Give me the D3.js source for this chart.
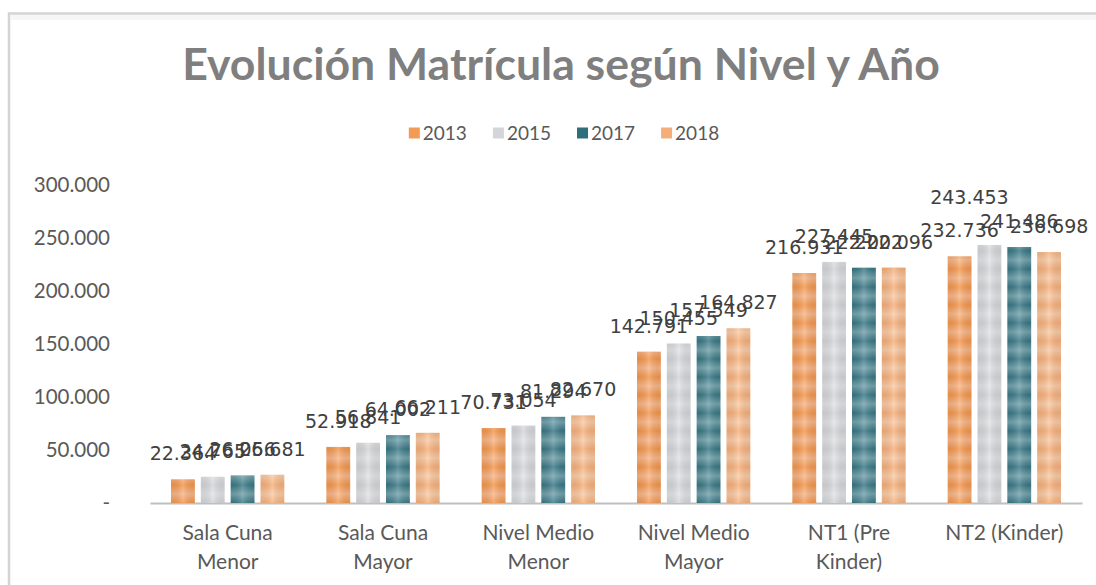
<!DOCTYPE html>
<html><head><meta charset="utf-8">
<script src="https://cdn.jsdelivr.net/npm/d3@7/dist/d3.min.js"></script>
<style>html,body{margin:0;padding:0;background:#fff;overflow:hidden}</style>
</head><body>
<svg id="chart" width="1096" height="585"></svg>
<script>
// ---- data ----
const categories = ["Sala Cuna Menor", "Sala Cuna Mayor", "Nivel Medio Menor", "Nivel Medio Mayor", "NT1 (Pre Kinder)", "NT2 (Kinder)"];
const years = ["2013", "2015", "2017", "2018"];
const values2013 = [22364, 52918, 70731, 142791, 216931, 232736];
const values2015 = [24765, 56841, 73054, 150455, 227445, 243453];
const values2017 = [26056, 64002, 81294, 157549, 222002, 241486];
const values2018 = [26681, 66211, 82670, 164827, 222096, 236698];
const yTicks = [0, 50000, 100000, 150000, 200000, 250000, 300000];
const titleText = "Evolución Matrícula según Nivel y Año";

// ---- styles ----
const palette = {
  "2013": {base: "#F3954A", light: "#F8B689", solid: "#F39A55"},
  "2015": {base: "#D2D4D7", light: "#E2E3E5", solid: "#D3D5D8"},
  "2017": {base: "#377683", light: "#73A3AD", solid: "#2F6E7C"},
  "2018": {base: "#F6AE78", light: "#FACBA6", solid: "#F6AE78"}
};
const labelShift = {"NT2 (Kinder)|2015": [-20, -22]};

const seriesValues = [values2013, values2015, values2017, values2018];
const svg = d3.select("#chart");
const loc = d3.formatLocale({decimal: ",", thousands: ".", grouping: [3], currency: ["$", ""]});
const fmt = loc.format(",.0f");

// background + border
svg.append("rect").attr("x", 0).attr("y", 0).attr("width", 1096).attr("height", 585).attr("fill", "#fff");
svg.append("rect").attr("x", 9).attr("y", 13.5).attr("width", 1200).attr("height", 700)
  .attr("fill", "none").attr("stroke", "#d4d4d4").attr("stroke-width", 2.5);
svg.append("rect").attr("x", 10.5).attr("y", 15).attr("width", 1200).attr("height", 5).attr("fill", "#f6f6f6");

// scales
const x0 = d3.scaleBand().domain(categories).range([150, 1082]).padding(0);
const x1 = d3.scaleBand().domain(years).range([21, x0.bandwidth() - 21]).paddingInner(0.2);
const y = d3.scaleLinear().domain([0, 300000]).range([503, 185]);

// defs
const defs = svg.append("defs");
years.forEach(yr => {
  const c = palette[yr];
  const g = defs.append("linearGradient").attr("id", "vg" + yr)
    .attr("x1", 0).attr("y1", 0).attr("x2", 0).attr("y2", 1);
  g.append("stop").attr("offset", 0).attr("stop-color", c.base);
  g.append("stop").attr("offset", 0.5).attr("stop-color", c.light);
  g.append("stop").attr("offset", 1).attr("stop-color", c.base);
  const p = defs.append("pattern").attr("id", "pat" + yr).attr("patternUnits", "userSpaceOnUse")
    .attr("width", 40).attr("height", 18).attr("patternTransform", "translate(0,503)");
  p.append("rect").attr("width", 40).attr("height", 18).attr("fill", "url(#vg" + yr + ")");
});
const hs = defs.append("linearGradient").attr("id", "hsheen").attr("x1", 0).attr("x2", 1).attr("y1", 0).attr("y2", 0);
hs.append("stop").attr("offset", 0).attr("stop-color", "#000").attr("stop-opacity", 0.06);
hs.append("stop").attr("offset", 0.5).attr("stop-color", "#fff").attr("stop-opacity", 0.18);
hs.append("stop").attr("offset", 1).attr("stop-color", "#000").attr("stop-opacity", 0.06);

// title
const title = svg.append("text").attr("x", 561).attr("y", 80).attr("text-anchor", "middle")
  .attr("font-family", "Lato").attr("font-weight", "bold").attr("font-size", 44)
  .attr("fill", "#7f7f7f").text(titleText);
const tw = title.node().getComputedTextLength();
title.attr("font-size", 44 * 758 / tw);

// legend
const legend = svg.append("g");
let lx = 0;
years.forEach(yr => {
  const it = legend.append("g").attr("transform", `translate(${lx},0)`);
  it.append("rect").attr("x", 0).attr("y", -5.5).attr("width", 11).attr("height", 11).attr("fill", palette[yr].solid);
  const t = it.append("text").attr("x", 14).attr("y", 0).attr("dy", "0.35em")
    .attr("font-family", "Lato").attr("font-size", 19).attr("fill", "#595959").text(yr);
  lx += 14 + t.node().getComputedTextLength() + 26;
});
lx -= 26;
legend.attr("transform", `translate(${564 - lx / 2},133)`);

// y axis
const yAxis = d3.axisLeft(y).tickValues(yTicks).tickSize(0).tickPadding(40)
  .tickFormat(d => d === 0 ? "-" : fmt(d));
const ya = svg.append("g").attr("transform", "translate(150,0)").call(yAxis);
ya.select(".domain").remove();
ya.selectAll("text").attr("font-family", "Lato").attr("font-size", 20.5).attr("fill", "#595959");

// x axis
const xAxis = d3.axisBottom(x0).tickSize(0).tickPadding(0).tickFormat("");
const xa = svg.append("g").attr("transform", "translate(0,503)").call(xAxis);
xa.select(".domain").attr("stroke", "#bfbfbf").attr("stroke-width", 2);
xa.selectAll(".tick").each(function(d) {
  const g = d3.select(this);
  const t = g.append("text").attr("text-anchor", "middle").attr("font-family", "Lato")
    .attr("font-size", 21).attr("fill", "#595959");
  const words = d.split(" ");
  let lines = [], cur = "";
  words.forEach(w => {
    const test = cur ? cur + " " + w : w;
    t.text(test);
    if (t.node().getComputedTextLength() > 140 && cur) { lines.push(cur); cur = w; } else cur = test;
  });
  lines.push(cur);
  t.text(null);
  lines.forEach((ln, i) => t.append("tspan").attr("x", 0).attr("y", 37 + i * 29).text(ln));
});

// bars
const groups = svg.append("g").selectAll("g").data(categories).join("g")
  .attr("transform", d => `translate(${x0(d)},0)`);
years.forEach((yr, si) => {
  groups.append("rect")
    .attr("x", x1(yr)).attr("width", x1.bandwidth())
    .attr("y", (d, i) => y(seriesValues[si][i]))
    .attr("height", (d, i) => y(0) - y(seriesValues[si][i]))
    .attr("fill", `url(#pat${yr})`);
  groups.append("rect")
    .attr("x", x1(yr)).attr("width", x1.bandwidth())
    .attr("y", (d, i) => y(seriesValues[si][i]))
    .attr("height", (d, i) => y(0) - y(seriesValues[si][i]))
    .attr("fill", "url(#hsheen)");
});

// data labels
const labels = svg.append("g");
years.forEach((yr, si) => {
  categories.forEach((cat, i) => {
    const v = seriesValues[si][i];
    const sh = labelShift[cat + "|" + yr] || [0, 0];
    labels.append("text")
      .attr("x", x0(cat) + x1(yr) + x1.bandwidth() / 2 + sh[0])
      .attr("y", y(v) - 19 + sh[1])
      .attr("text-anchor", "middle").attr("font-family", "DejaVu Sans").attr("font-size", 19)
      .attr("fill", "#404040").text(fmt(v));
  });
});
</script>
</body></html>
